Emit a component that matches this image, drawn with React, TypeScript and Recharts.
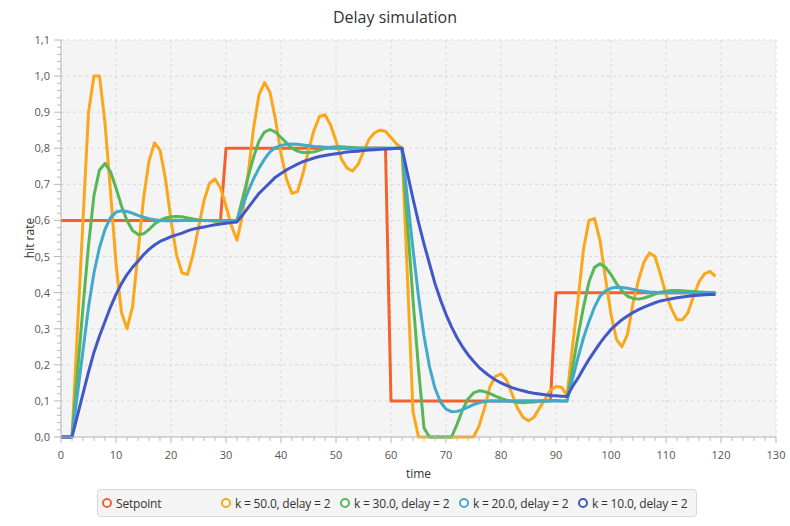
import React from 'react';
import { LineChart, Line, XAxis, YAxis, CartesianGrid } from 'recharts';

const FONT = '"Open Sans", "Noto Sans", sans-serif';

// hit rate per time step (t = 0..119)
const setpoint = [
  0.6, 0.6, 0.6, 0.6, 0.6, 0.6, 0.6, 0.6, 0.6, 0.6,
  0.6, 0.6, 0.6, 0.6, 0.6, 0.6, 0.6, 0.6, 0.6, 0.6,
  0.6, 0.6, 0.6, 0.6, 0.6, 0.6, 0.6, 0.6, 0.6, 0.6,
  0.8, 0.8, 0.8, 0.8, 0.8, 0.8, 0.8, 0.8, 0.8, 0.8,
  0.8, 0.8, 0.8, 0.8, 0.8, 0.8, 0.8, 0.8, 0.8, 0.8,
  0.8, 0.8, 0.8, 0.8, 0.8, 0.8, 0.8, 0.8, 0.8, 0.8,
  0.1, 0.1, 0.1, 0.1, 0.1, 0.1, 0.1, 0.1, 0.1, 0.1,
  0.1, 0.1, 0.1, 0.1, 0.1, 0.1, 0.1, 0.1, 0.1, 0.1,
  0.1, 0.1, 0.1, 0.1, 0.1, 0.1, 0.1, 0.1, 0.1, 0.1,
  0.4, 0.4, 0.4, 0.4, 0.4, 0.4, 0.4, 0.4, 0.4, 0.4,
  0.4, 0.4, 0.4, 0.4, 0.4, 0.4, 0.4, 0.4, 0.4, 0.4,
  0.4, 0.4, 0.4, 0.4, 0.4, 0.4, 0.4, 0.4, 0.4, 0.4,
];

const k50 = [
  0, 0, 0, 0.3, 0.6, 0.9, 1.0, 1.0, 0.87, 0.68,
  0.48, 0.345, 0.3, 0.36, 0.51, 0.66, 0.765, 0.815, 0.795, 0.715,
  0.6, 0.505, 0.455, 0.45, 0.505, 0.58, 0.655, 0.703, 0.715, 0.69,
  0.64, 0.585, 0.545, 0.615, 0.725, 0.855, 0.948, 0.982, 0.955, 0.88,
  0.785, 0.715, 0.675, 0.68, 0.73, 0.795, 0.85, 0.888, 0.893, 0.865,
  0.82, 0.77, 0.745, 0.737, 0.755, 0.79, 0.825, 0.843, 0.85, 0.847,
  0.83, 0.812, 0.8, 0.44, 0.07, 0, 0, 0, 0, 0,
  0, 0, 0, 0, 0, 0, 0.03, 0.08, 0.14, 0.168,
  0.175, 0.158, 0.12, 0.08, 0.055, 0.045, 0.055, 0.08, 0.105, 0.13,
  0.14, 0.138, 0.115, 0.25, 0.38, 0.52, 0.6, 0.605, 0.545, 0.44,
  0.34, 0.27, 0.25, 0.285, 0.37, 0.435, 0.485, 0.51, 0.5, 0.45,
  0.395, 0.355, 0.325, 0.325, 0.345, 0.39, 0.43, 0.452, 0.459, 0.445,
];

const k30 = [
  0, 0, 0, 0.18, 0.36, 0.53, 0.67, 0.74, 0.758, 0.735,
  0.69, 0.64, 0.6, 0.572, 0.561, 0.563, 0.575, 0.59, 0.6, 0.607,
  0.61, 0.611, 0.61, 0.607, 0.604, 0.601, 0.6, 0.599, 0.598, 0.598,
  0.599, 0.6, 0.6, 0.66, 0.72, 0.775, 0.82, 0.845, 0.852, 0.845,
  0.83, 0.815, 0.8, 0.792, 0.788, 0.788, 0.79, 0.795, 0.8, 0.803,
  0.804, 0.804, 0.803, 0.802, 0.801, 0.8, 0.8, 0.8, 0.8, 0.8,
  0.8, 0.8, 0.8, 0.59, 0.38, 0.19, 0.025, 0, 0, 0,
  0, 0, 0.035, 0.075, 0.105, 0.122, 0.128, 0.126, 0.12, 0.113,
  0.107, 0.102, 0.098, 0.096, 0.095, 0.096, 0.097, 0.099, 0.1, 0.101,
  0.101, 0.1, 0.1, 0.19, 0.28, 0.36, 0.43, 0.47, 0.48, 0.47,
  0.45, 0.425, 0.405, 0.39, 0.384, 0.382, 0.385, 0.39, 0.396, 0.401,
  0.404, 0.406, 0.406, 0.405, 0.404, 0.403, 0.402, 0.401, 0.4, 0.4,
];

const k20 = [
  0, 0, 0, 0.12, 0.24, 0.36, 0.455, 0.525, 0.575, 0.608,
  0.623, 0.627, 0.625, 0.62, 0.614, 0.609, 0.605, 0.602, 0.6, 0.599,
  0.599, 0.599, 0.6, 0.6, 0.6, 0.6, 0.6, 0.6, 0.6, 0.6,
  0.6, 0.6, 0.6, 0.64, 0.68, 0.715, 0.745, 0.77, 0.79, 0.802,
  0.808, 0.811, 0.812, 0.811, 0.809, 0.807, 0.805, 0.804, 0.803, 0.802,
  0.801, 0.801, 0.8, 0.8, 0.8, 0.8, 0.8, 0.8, 0.8, 0.8,
  0.8, 0.8, 0.8, 0.66, 0.52, 0.39, 0.28, 0.195, 0.135, 0.097,
  0.077, 0.07, 0.071, 0.076, 0.083, 0.09, 0.095, 0.098, 0.1, 0.1,
  0.1, 0.1, 0.1, 0.1, 0.1, 0.1, 0.1, 0.1, 0.1, 0.1,
  0.1, 0.1, 0.1, 0.16, 0.22, 0.275, 0.32, 0.36, 0.39, 0.405,
  0.412, 0.415, 0.414, 0.412, 0.409, 0.406, 0.404, 0.402, 0.401, 0.4,
  0.4, 0.4, 0.4, 0.4, 0.4, 0.4, 0.4, 0.4, 0.4, 0.4,
];

const k10 = [
  0, 0, 0, 0.06, 0.12, 0.18, 0.235, 0.28, 0.32, 0.36,
  0.395, 0.425, 0.45, 0.47, 0.487, 0.505, 0.52, 0.532, 0.542, 0.548,
  0.555, 0.56, 0.565, 0.571, 0.576, 0.579, 0.582, 0.585, 0.588, 0.59,
  0.592, 0.594, 0.596, 0.615, 0.635, 0.655, 0.675, 0.69, 0.705, 0.72,
  0.73, 0.74, 0.748, 0.756, 0.763, 0.768, 0.773, 0.777, 0.78, 0.783,
  0.785, 0.787, 0.79, 0.791, 0.792, 0.794, 0.795, 0.796, 0.797, 0.798,
  0.799, 0.8, 0.8, 0.73, 0.66, 0.595, 0.535, 0.48, 0.425, 0.38,
  0.34, 0.305, 0.275, 0.25, 0.228, 0.21, 0.193, 0.18, 0.168, 0.158,
  0.15, 0.143, 0.137, 0.132, 0.128, 0.124, 0.121, 0.119, 0.117, 0.115,
  0.114, 0.113, 0.112, 0.14, 0.163, 0.19, 0.215, 0.238, 0.26, 0.28,
  0.298, 0.312, 0.325, 0.335, 0.345, 0.353, 0.36, 0.366, 0.372, 0.377,
  0.38, 0.383, 0.386, 0.388, 0.39, 0.392, 0.393, 0.394, 0.395, 0.395,
];

const series = [
  { key: 'setpoint', name: 'Setpoint', color: '#f3622d', values: setpoint },
  { key: 'k50', name: 'k = 50.0, delay = 2', color: '#fba71b', values: k50 },
  { key: 'k30', name: 'k = 30.0, delay = 2', color: '#57b757', values: k30 },
  { key: 'k20', name: 'k = 20.0, delay = 2', color: '#41a9c9', values: k20 },
  { key: 'k10', name: 'k = 10.0, delay = 2', color: '#4258c9', values: k10 },
];

const data = setpoint.map((_, t) => {
  const row: Record<string, number> = { t };
  series.forEach((s) => { row[s.key] = s.values[t]; });
  return row;
});

const xMajor = [0, 10, 20, 30, 40, 50, 60, 70, 80, 90, 100, 110, 120, 130];
const yMajor = [0, 0.1, 0.2, 0.3, 0.4, 0.5, 0.6, 0.7, 0.8, 0.9, 1.0, 1.1];
// minor ticks every 2 on x, every 0.02 on y
const xTicks = Array.from({ length: 66 }, (_, i) => i * 2);
const yTicks = Array.from({ length: 56 }, (_, i) => (i * 2) / 100);

const AXIS = '#b8b8b8';

function XTick({ x, y, payload }: any) {
  const v = payload.value;
  const major = v % 10 === 0;
  return (
    <g>
      <line x1={x} x2={x} y1={y} y2={y + (major ? 6 : 4)} stroke={AXIS} />
      {major && (
        <text x={x} y={y + 22} textAnchor="middle" fontSize={11} fill="#555" fontFamily={FONT}>
          {v}
        </text>
      )}
    </g>
  );
}

function YTick({ x, y, payload }: any) {
  const v = payload.value;
  const major = Math.round(v * 100) % 10 === 0;
  return (
    <g>
      <line x1={x - (major ? 7 : 4)} x2={x} y1={y} y2={y} stroke={AXIS} />
      {major && (
        <text x={x - 11} y={y + 4} textAnchor="end" fontSize={11} fill="#555" fontFamily={FONT}>
          {v.toFixed(1).replace('.', ',')}
        </text>
      )}
    </g>
  );
}

export default function App() {
  return (
    <div style={{ position: 'absolute', left: 0, top: 0, width: 790, height: 526, background: '#fff', fontFamily: FONT }}>
      <div style={{ position: 'absolute', left: 0, top: 6, width: 790, textAlign: 'center', fontSize: 16, color: '#333' }}>
        Delay simulation
      </div>
      <LineChart width={790} height={526} data={data} margin={{ top: 40, right: 14, bottom: 0, left: 0 }}>
        <CartesianGrid
          fill="#f4f4f4"
          stroke="#dadada"
          strokeDasharray="3 3"
          horizontalValues={yMajor}
          verticalValues={xMajor}
        />
        <XAxis
          dataKey="t"
          type="number"
          domain={[0, 130]}
          ticks={xTicks}
          interval={0}
          height={89}
          tickSize={0}
          tickMargin={0}
          tickLine={false}
          axisLine={{ stroke: AXIS }}
          tick={<XTick />}
        />
        <YAxis
          type="number"
          domain={[0, 1.1]}
          ticks={yTicks}
          interval={0}
          width={61}
          tickSize={0}
          tickMargin={0}
          tickLine={false}
          axisLine={{ stroke: AXIS }}
          tick={<YTick />}
        />
        {series.map((s) => (
          <Line
            key={s.key}
            type="linear"
            dataKey={s.key}
            name={s.name}
            stroke={s.color}
            strokeWidth={3}
            strokeLinejoin="round"
            dot={false}
            isAnimationActive={false}
          />
        ))}
      </LineChart>
      <div style={{ position: 'absolute', left: 0, top: 465, width: 837, textAlign: 'center', fontSize: 12, color: '#333' }}>
        time
      </div>
      <div
        style={{
          position: 'absolute', left: 29, top: 238, fontSize: 12, color: '#333',
          transform: 'translate(-50%, -50%) rotate(-90deg)', whiteSpace: 'nowrap',
        }}
      >
        hit rate
      </div>
      <div
        style={{
          position: 'absolute', left: 97, top: 489, width: 600, height: 28, boxSizing: 'border-box',
          background: '#f4f4f4', border: '1px solid #d8d8d8', borderRadius: 4,
          display: 'flex', alignItems: 'center', paddingLeft: 4,
        }}
      >
        {series.map((s) => (
          <div key={s.key} style={{ width: 119, display: 'flex', alignItems: 'center', flexShrink: 0 }}>
            <span
              style={{
                width: 10, height: 10, boxSizing: 'border-box', borderRadius: '50%',
                border: `2.5px solid ${s.color}`, background: '#fff', flexShrink: 0,
              }}
            />
            <span style={{ marginLeft: 4, fontSize: 12, color: '#333', whiteSpace: 'nowrap', letterSpacing: -0.2 }}>
              {s.name}
            </span>
          </div>
        ))}
      </div>
    </div>
  );
}
